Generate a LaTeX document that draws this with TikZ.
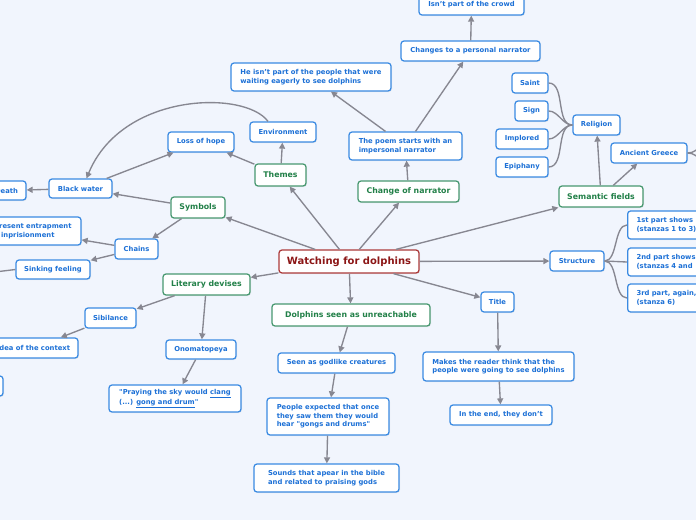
\documentclass[tikz,border=0pt]{standalone}
\usepackage{fontspec}
\setmainfont{DejaVu Sans}
\usetikzlibrary{arrows.meta,shadows}
\definecolor{bg}{RGB}{241,245,253}
\definecolor{bblue}{RGB}{58,138,226}
\definecolor{btext}{RGB}{28,112,214}
\definecolor{gborder}{RGB}{72,152,112}
\definecolor{gtext}{RGB}{34,128,72}
\definecolor{rborder}{RGB}{172,58,58}
\definecolor{rtext}{RGB}{140,22,22}
\definecolor{lgray}{RGB}{135,135,145}
\begin{document}
\begin{tikzpicture}[x=1pt,y=-1pt,
  base/.style={fill=white, rounded corners=3pt, line width=1.25pt, inner sep=0pt, align=left,
    drop shadow={opacity=0.12, shadow xshift=1pt, shadow yshift=-1pt}},
  bx/.style={base, draw=bblue, text=btext, font=\bfseries\fontsize{6.8}{8.6}\selectfont},
  gx/.style={base, draw=gborder, text=gtext, font=\bfseries\fontsize{7.8}{9.5}\selectfont},
  rx/.style={base, draw=rborder, text=rtext, font=\bfseries\fontsize{10}{12}\selectfont},
  sz/.style 2 args={minimum width=#1pt, minimum height=#2pt},
  con/.style={draw=lgray, line width=1.35pt, -{Triangle[length=6pt,width=6pt]}},
  tie/.style={draw=lgray, line width=1.35pt}]
\fill[bg] (0,0) rectangle (696,520);
\clip (0,0) rectangle (696,520);
\useasboundingbox (0,0) rectangle (696,520);

% main
\node[rx, sz={140}{23}] (central) at (349,261.5) {Watching for dolphins};
\node[gx, sz={51}{22}] (themes) at (280.5,175) {Themes};
\node[gx, sz={101}{21}] (changeN) at (408.5,191.5) {Change of narrator};
\node[gx, sz={84}{21}] (semantic) at (601,196.5) {Semantic fields};
\node[gx, sz={158}{22}] (dolphins) at (351,315) {Dolphins seen as unreachable};
\node[gx, sz={87}{21}] (literary) at (206.5,284.5) {Literary devises};
\node[gx, sz={54}{21}] (symbols) at (198,207.5) {Symbols};

% themes
\node[bx, sz={66}{20}] (environment) at (283,132) {Environment};
\node[bx, sz={66}{20}] (loss) at (201,142) {Loss of hope};
\node[bx, sz={63}{19}] (blackwater) at (80.5,188.5) {Black water};
\node[bx, sz={39}{19}] (death) at (6.5,190.5) {Death};

% symbols
\node[bx, sz={43}{20}] (chains) at (136.5,249) {Chains};
\node[bx, sz={106}{28}] (represent) at (28,231) {Represent entrapment\\and inprisionment};
\node[bx, sz={74}{19}] (sinking) at (53,269.5) {Sinking feeling};
\coordinate (sinkoff) at (-30,275);

% literary devises
\node[bx, sz={51}{20}] (sibilance) at (110.5,318) {Sibilance};
\node[bx, sz={89}{20}] (idea) at (33.5,348) {Idea of the context};
\node[bx, sz={62}{20}] (hidden) at (-28,386) {};
\node[bx, sz={70}{19}] (onomatopeya) at (201,349.5) {Onomatopeya};
\node[bx, sz={132}{27}] (praying) at (175,398.5) {\textquotedbl Praying the sky would \underline{clang}\\(...) \underline{gong and drum}\textquotedbl};

% dolphins
\node[bx, sz={117}{20}] (seen) at (336.5,363) {Seen as godlike creatures};
\node[bx, sz={122}{37}] (people) at (328,416.5) {People expected that once\\they saw them they would\\hear \textquotedbl gongs and drums\textquotedbl};
\node[bx, sz={145}{28}] (sounds) at (326.5,478) {Sounds that apear in the bible\\and related to praising gods};

% title
\node[bx, sz={33}{20}] (title) at (497.5,302) {Title};
\node[bx, sz={151}{29}] (makes) at (498.5,366.5) {Makes the reader think that the\\people were going to see dolphins};
\node[bx, sz={102}{20}] (inend) at (501,415) {In the end, they don't};

% structure
\node[bx, sz={54}{20}] (structure) at (577,261) {Structure};
\node[bx, anchor=west, minimum height=28pt, text width=110pt, inner xsep=9pt] (part1) at (627,225) {1st part shows\\(stanzas 1 to 3)};
\node[bx, anchor=west, minimum height=28pt, text width=110pt, inner xsep=9pt] (part2) at (627,262) {2nd part shows\\(stanzas 4 and};
\node[bx, anchor=west, minimum height=28pt, text width=110pt, inner xsep=9pt] (part3) at (627,298) {3rd part, again,\\(stanza 6)};

% semantic fields
\node[bx, sz={47}{20}] (religion) at (596.5,125) {Religion};
\node[bx, sz={36}{20}] (saint) at (530,83) {Saint};
\node[bx, sz={33}{20}] (sign) at (531.5,111) {Sign};
\node[bx, sz={52}{20}] (implored) at (522,139) {Implored};
\node[bx, sz={52}{20}] (epiphany) at (522,167) {Epiphany};
\node[bx, sz={76}{20}] (greece) at (649,153) {Ancient Greece};
\coordinate (greeceA) at (715,138);
\coordinate (greeceB) at (715,168);

% narrator
\node[bx, sz={113}{28}] (poem) at (405.5,146) {The poem starts with an\\impersonal narrator};
\node[bx, sz={139}{20}] (changes) at (470.5,51) {Changes to a personal narrator};
\node[bx, sz={105}{20}] (crowd) at (471.5,5) {Isn't part of the crowd};
\node[bx, sz={160}{28}] (heisnt) at (311,77) {He isn't part of the people that were\\waiting eagerly to see dolphins};

% connectors
\draw[con] (central) -- (themes);
\draw[con] (central) -- (changeN);
\draw[con] (central) -- (semantic);
\draw[con] (central) -- (structure);
\draw[con] (central) -- (title);
\draw[con] (central) -- (dolphins);
\draw[con] (central) -- (literary);
\draw[con] (central) -- (symbols);

\draw[con] (themes) -- (environment);
\draw[con] (themes) -- (loss);
\coordinate (envtop) at ([xshift=-15pt]environment.north);
\draw[con] (envtop) .. controls (245,90) and (122,92) .. ([xshift=6pt]blackwater.north);
\draw[con] (blackwater) -- (loss);
\draw[con] (symbols) -- (blackwater);
\draw[con] (blackwater) -- (death);
\draw[con] (symbols) -- (chains);
\draw[con] (chains) -- (represent);
\draw[con] (chains) -- (sinking);
\draw[tie] (sinking.west) -- (sinkoff);

\draw[con] (literary) -- (sibilance);
\draw[con] (sibilance) -- (idea);
\draw[con] (literary) -- (onomatopeya);
\draw[con] (onomatopeya) -- (praying);

\draw[con] (dolphins) -- (seen);
\draw[con] (seen) -- (people);
\draw[con] (people) -- (sounds);

\draw[con] (title) -- (makes);
\draw[con] (makes) -- (inend);

\draw[tie] (structure.east) to[out=0,in=180,looseness=0.8] (part1.west);
\draw[tie] (structure.east) -- (part2.west);
\draw[tie] (structure.east) to[out=0,in=180,looseness=0.8] (part3.west);

\draw[con] (semantic) -- (religion);
\draw[con] (semantic) -- (greece);
\draw[tie] (saint.east) to[out=0,in=180,looseness=0.9] (religion.west);
\draw[tie] (sign.east) to[out=0,in=180,looseness=0.9] (religion.west);
\draw[tie] (implored.east) to[out=0,in=180,looseness=0.9] (religion.west);
\draw[tie] (epiphany.east) to[out=0,in=180,looseness=0.9] (religion.west);
\draw[tie] (greece.east) to[out=0,in=180] (greeceA);
\draw[tie] (greece.east) to[out=0,in=180] (greeceB);

\draw[con] (changeN) -- (poem);
\draw[con] (poem) -- (changes);
\draw[con] (poem) -- (heisnt);
\draw[con] (changes) -- (crowd);
\end{tikzpicture}
\end{document}
